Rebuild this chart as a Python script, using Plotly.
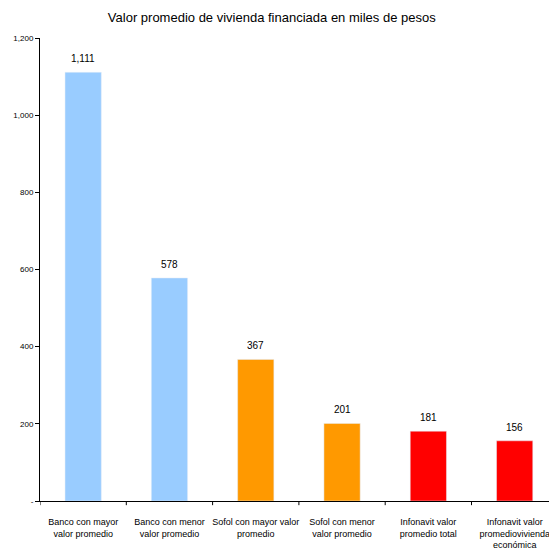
import plotly.graph_objects as go

categories = ["Banco con mayor<br>valor promedio", "Banco con menor<br>valor promedio",
              "Sofol con mayor valor<br>promedio", "Sofol con menor<br>valor promedio",
              "Infonavit valor<br>promedio total", "Infonavit valor<br>promediovivienda<br>económica"]
values = [1111, 578, 367, 201, 181, 156]
colors = ["#99CCFF", "#99CCFF", "#FF9900", "#FF9900", "#FF0000", "#FF0000"]
tick_vals = [0, 200, 400, 600, 800, 1000, 1200]
tick_text = ["-", "200", "400", "600", "800", "1,000", "1,200"]

fig = go.Figure(go.Bar(
    x=list(range(len(categories))), y=values, marker_color=colors, width=0.42,
))
for i, v in enumerate(values):
    fig.add_annotation(x=i, y=v, text=f"{v:,}", showarrow=False, yanchor="bottom",
                       yshift=6, font=dict(family="Liberation Sans, Arial", size=10, color="black"))
fig.update_layout(
    width=549, height=558,
    margin=dict(l=40, r=0, t=38, b=57, autoexpand=False),
    paper_bgcolor="white", plot_bgcolor="white",
    showlegend=False,
    font=dict(family="Liberation Sans, Arial", color="black"),
    title=dict(text="Valor promedio de vivienda financiada en miles de pesos",
               x=0.495, xanchor="center", y=0.968, yanchor="middle",
               font=dict(size=13, color="black")),
    xaxis=dict(range=[-0.5, 5.398], tickmode="array", tickvals=list(range(len(categories))),
               ticktext=categories, showline=True, linecolor="black", linewidth=1,
               ticks="", showgrid=False, tickfont=dict(size=9), zeroline=False,
               ticklabeloverflow="allow", ticklabelstandoff=12, automargin=False),
    yaxis=dict(range=[0, 1200], tickmode="array", tickvals=tick_vals, ticktext=tick_text,
               showline=True, linecolor="black", linewidth=1, ticks="outside", ticklen=4,
               tickcolor="black", showgrid=False, zeroline=False, tickfont=dict(size=8),
               automargin=False),
)
# boundary tick marks on the category axis
for b in [i - 0.5 for i in range(len(categories) + 1)]:
    fig.add_shape(type="line", xref="x", yref="paper", x0=b, x1=b, y0=0, y1=-0.009,
                  line=dict(color="black", width=1))
fig.write_html("out.html")
